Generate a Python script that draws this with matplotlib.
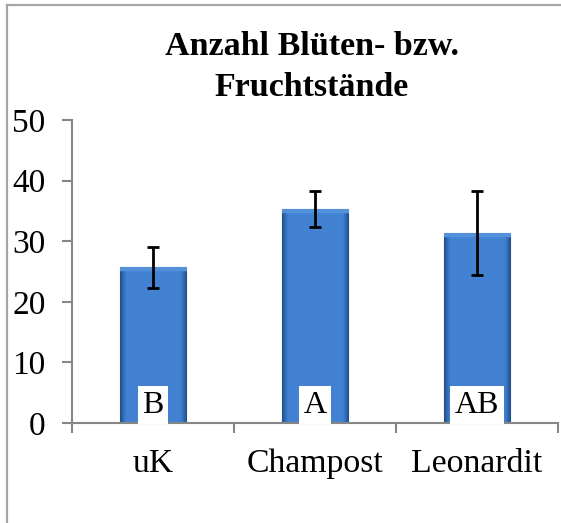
import matplotlib.pyplot as plt
import numpy as np
from matplotlib.colors import LinearSegmentedColormap
from matplotlib.lines import Line2D

categories = ['uK', 'Champost', 'Leonardit']
values = [25.7, 35.3, 31.3]
errors = [3.4, 3.0, 6.9]
letters = ['B', 'A', 'AB']
title = 'Anzahl Blüten- bzw.\nFruchtstände'

plt.rcParams['font.family'] = ['Liberation Serif', 'DejaVu Serif']

fig = plt.figure(figsize=(5.61, 5.23), dpi=100)
ax = fig.add_axes([0.1283, 0.1912, 0.8664, 0.5794])

grey = '#868686'
x = np.arange(len(categories))
width = 0.41
bars = ax.bar(x, values, width, color='#3c79c8', edgecolor='#2a5896', linewidth=0.8, zorder=2)

# excel-like bevel: darker edges, lighter top strip
cmap = LinearSegmentedColormap.from_list('bev', ['#23508a', '#2f66ad', '#3b79c9', '#4382d2', '#5391da'])
for b in bars:
    x0, y0 = b.get_x(), b.get_y()
    w, h = b.get_width(), b.get_height()
    nx, ny = 60, 400
    u = np.linspace(0, 1, nx)
    edge = np.minimum(u, 1 - u) * 2
    prof = np.clip(edge * 5, 0, 1) * 0.75
    img = np.tile(prof, (ny, 1))
    yy = np.linspace(y0 + h, y0, ny)
    top = (y0 + h - yy) < 0.7
    img[top] = 1.0
    im = ax.imshow(img, cmap=cmap, vmin=0, vmax=1, extent=(x0, x0 + w, y0, y0 + h),
                   aspect='auto', zorder=2.5, interpolation='bilinear')
    im.set_clip_path(b)

ax.errorbar(x, values, yerr=errors, fmt='none', ecolor='black', elinewidth=2,
            capsize=4.5, capthick=2, zorder=4)

for xi, lab in zip(x, letters):
    ax.text(xi, 0.55, lab, ha='center', va='bottom', fontsize=23, zorder=5,
            bbox=dict(boxstyle='square,pad=0.14', facecolor='white', edgecolor='none'))

ax.set_xlim(-0.5, 2.5)
ax.set_ylim(0, 50)
ax.set_yticks(range(0, 51, 10))
ax.set_xticks(x)
ax.set_xticklabels(categories)
ax.set_xticks([-0.5, 0.5, 1.5, 2.5], minor=True)

for s in ['top', 'right']:
    ax.spines[s].set_visible(False)
for s in ['left', 'bottom']:
    ax.spines[s].set_color(grey)
    ax.spines[s].set_linewidth(1.5)

ax.tick_params(axis='y', length=7, width=1.5, color=grey, labelsize=24, pad=12, direction='out')
ax.tick_params(axis='x', which='major', length=0, labelsize=24.3, pad=18)
ax.tick_params(axis='x', which='minor', length=7, width=1.5, color=grey, direction='out')

fig.text(312 / 561, 1 - 67 / 523, title, ha='center', va='center', fontsize=24.5,
         fontweight='bold', linespacing=1.45)

# chart-area border (left and top edges visible)
fig.add_artist(Line2D([7 / 561, 7 / 561], [0, 1 - 5 / 523], color='#a6a6a6', lw=1.6,
                      transform=fig.transFigure))
fig.add_artist(Line2D([7 / 561, 1], [1 - 5 / 523, 1 - 5 / 523], color='#a6a6a6', lw=1.6,
                      transform=fig.transFigure))

fig.savefig('out.png', dpi=100)
